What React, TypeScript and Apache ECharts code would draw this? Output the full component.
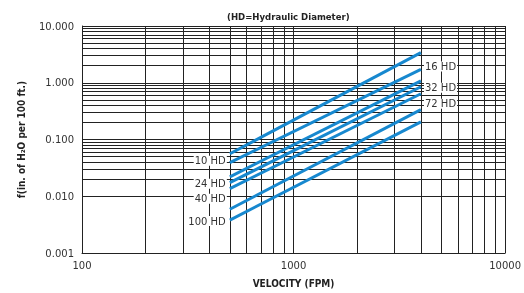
import React, { useEffect, useRef } from "react";
import * as echarts from "echarts";

const velocities = [500, 4000];
const hdNames = ["10 HD", "16 HD", "24 HD", "32 HD", "40 HD", "72 HD", "100 HD"];
const frictionAt500 = [0.056, 0.039, 0.022, 0.0174, 0.0136, 0.0059, 0.0038];
const frictionAt4000 = [3.4, 1.72, 1.08, 0.85, 0.64, 0.335, 0.205];
const labelSide = ["left", "right", "left", "right", "left", "right", "left"];
const xGridValues = [200, 300, 400, 500, 600, 700, 800, 900, 2000, 3000, 4000, 5000, 6000, 7000, 8000, 9000];
const yGridValues = [
  0.002, 0.003, 0.004, 0.005, 0.006, 0.007, 0.008, 0.009,
  0.02, 0.03, 0.04, 0.05, 0.06, 0.07, 0.08, 0.09,
  0.2, 0.3, 0.4, 0.5, 0.6, 0.7, 0.8, 0.9,
  2, 3, 4, 5, 6, 7, 8, 9,
];

const labelOffsets = [7, -3, 7, 1, 10, -6, 1];

export default function App() {
  const ref = useRef<HTMLDivElement>(null);
  useEffect(() => {
    if (!ref.current) return;
    const chart = echarts.init(ref.current, undefined, { renderer: "svg" });
    const condensed = "'Liberation Sans Narrow', 'DejaVu Sans Condensed', 'Roboto Condensed', 'DejaVu Sans', sans-serif";
    const labelFont = "'DejaVu Sans', Verdana, sans-serif";
    const lineSeries = hdNames.map((name, i) => ({
      name,
      type: "line",
      z: 5,
      symbol: "circle",
      symbolSize: 0.1,
      showSymbol: true,
      itemStyle: { color: "#1788cf" },
      lineStyle: { color: "#1788cf", width: 3 },
      data: velocities.map((v, j) => {
        const y = j === 0 ? frictionAt500[i] : frictionAt4000[i];
        const showHere = (labelSide[i] === "left" && j === 0) || (labelSide[i] === "right" && j === 1);
        return {
          value: [v, y],
          label: showHere
            ? {
                show: true,
                formatter: name,
                position: labelSide[i],
                distance: 3,
                offset: [0, labelOffsets[i]],
                color: "#333",
                fontSize: 10,
                fontFamily: labelFont,
                backgroundColor: "#fff",
                padding: [0, 1],
              }
            : { show: false },
        };
      }),
    }));
    chart.setOption({
      animation: false,
      title: {
        text: "(HD=Hydraulic Diameter)",
        left: 222,
        top: 6,
        textStyle: { fontSize: 9.5, fontWeight: "bold", color: "#222", fontFamily: condensed },
      },
      grid: { left: 82, right: 18, top: 26, bottom: 38 },
      xAxis: {
        type: "log",
        logBase: 10,
        min: 100,
        max: 10000,
        name: "VELOCITY (FPM)",
        nameLocation: "middle",
        nameGap: 25,
        nameTextStyle: { fontSize: 10, fontWeight: "bold", color: "#222", fontFamily: condensed },
        axisLine: { show: true, lineStyle: { color: "#222", width: 1 } },
        axisTick: { show: false },
        axisLabel: {
          color: "#333",
          fontSize: 10,
          fontFamily: labelFont,
          margin: 7,
          formatter: (v: number) => String(Math.round(v)),
        },
        splitLine: { show: true, lineStyle: { color: "#222", width: 1 } },
      },
      yAxis: {
        type: "log",
        logBase: 10,
        min: 0.001,
        max: 10,
        name: "f(in. of H₂O per 100 ft.)",
        nameLocation: "middle",
        nameGap: 56,
        nameRotate: 90,
        nameTextStyle: { fontSize: 10, fontWeight: "bold", color: "#222", fontFamily: condensed },
        axisLine: { show: true, lineStyle: { color: "#222", width: 1 } },
        axisTick: { show: false },
        axisLabel: {
          color: "#333",
          fontSize: 10,
          fontFamily: labelFont,
          margin: 8,
          formatter: (v: number) => v.toFixed(3),
        },
        splitLine: { show: true, lineStyle: { color: "#222", width: 1 } },
      },
      series: [
        {
          type: "line",
          name: "grid",
          z: 1,
          silent: true,
          data: [],
          markLine: {
            silent: true,
            symbol: "none",
            label: { show: false },
            lineStyle: { color: "#222", width: 1, type: "solid" },
            data: [
              ...xGridValues.map((v) => ({ xAxis: v })),
              ...yGridValues.map((v) => ({ yAxis: v })),
            ],
          },
        },
        ...lineSeries,
      ],
    });
    return () => chart.dispose();
  }, []);
  return <div ref={ref} style={{ position: "fixed", left: 0, top: 0, width: 524, height: 293 }} />;
}
